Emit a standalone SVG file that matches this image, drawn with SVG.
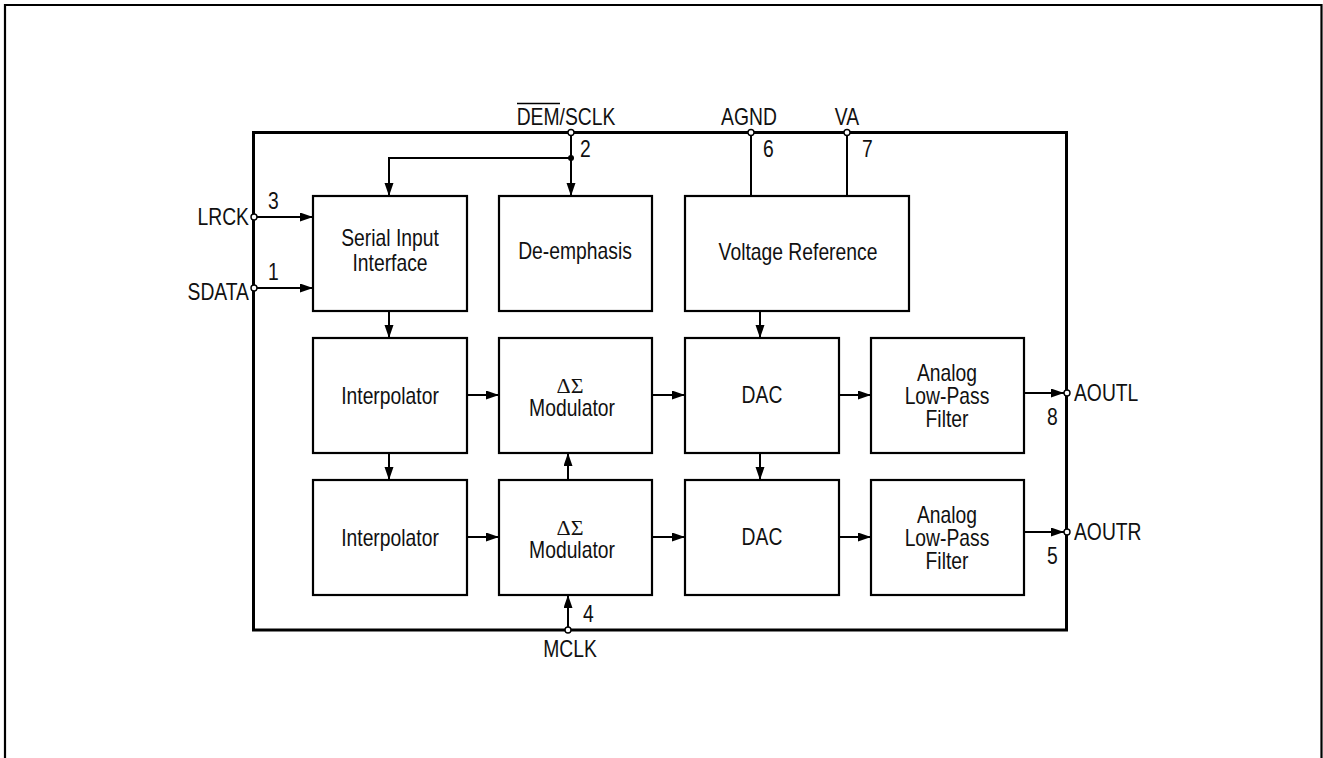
<svg xmlns="http://www.w3.org/2000/svg" width="1323" height="758" viewBox="0 0 1323 758">
<style>
.t{font-family:"Liberation Sans",Arial,sans-serif;font-size:23px;fill:#111}
.m{text-anchor:middle}
.e{text-anchor:end}
.g{font-family:"Liberation Serif","DejaVu Serif",serif;font-size:22px;fill:#111;text-anchor:middle}
.box{fill:#fff;stroke:#000;stroke-width:2.2}
.ln{fill:none;stroke:#000;stroke-width:2}
.pin{fill:#fff;stroke:#000;stroke-width:1.4}
</style>
<defs>
<marker id="ah" markerUnits="userSpaceOnUse" markerWidth="14" markerHeight="10" refX="13" refY="4.5" orient="auto">
<path d="M0,0 L13,4.5 L0,9 Z" fill="#000"/>
</marker>
</defs>
<rect width="1323" height="758" fill="#fff"/>
<path d="M5,760 V5 H1321.5 V760" fill="none" stroke="#000" stroke-width="2.2"/>
<rect id="chip" x="253.5" y="132.5" width="813" height="497.5" fill="none" stroke="#000" stroke-width="3"/>

<g id="connectors">
<path class="ln" d="M571,132 V196" marker-end="url(#ah)"/>
<path class="ln" d="M571,158 H389 V196" marker-end="url(#ah)"/>
<circle cx="571" cy="158" r="3" fill="#000"/>
<path class="ln" d="M751,132 V196"/>
<path class="ln" d="M847,132 V196"/>
<path class="ln" d="M254,217 H313" marker-end="url(#ah)"/>
<path class="ln" d="M254,288 H313" marker-end="url(#ah)"/>
<path class="ln" d="M389,311 V338" marker-end="url(#ah)"/>
<path class="ln" d="M389,453 V480" marker-end="url(#ah)"/>
<path class="ln" d="M760,311 V338" marker-end="url(#ah)"/>
<path class="ln" d="M760,453 V480" marker-end="url(#ah)"/>
<path class="ln" d="M467,395 H499" marker-end="url(#ah)"/>
<path class="ln" d="M652,395 H685" marker-end="url(#ah)"/>
<path class="ln" d="M839,395 H871" marker-end="url(#ah)"/>
<path class="ln" d="M1024,393 H1064" marker-end="url(#ah)"/>
<path class="ln" d="M467,537 H499" marker-end="url(#ah)"/>
<path class="ln" d="M652,537 H685" marker-end="url(#ah)"/>
<path class="ln" d="M839,537 H871" marker-end="url(#ah)"/>
<path class="ln" d="M1024,532 H1064" marker-end="url(#ah)"/>
<path class="ln" d="M568,480 V453" marker-end="url(#ah)"/>
<path class="ln" d="M568,630 V595" marker-end="url(#ah)"/>
</g>

<g id="pins">
<circle class="pin" cx="571" cy="132.5" r="3"/>
<circle class="pin" cx="751" cy="132.5" r="3"/>
<circle class="pin" cx="847" cy="132.5" r="3"/>
<circle class="pin" cx="254" cy="217" r="3"/>
<circle class="pin" cx="254" cy="288" r="3"/>
<circle class="pin" cx="1067" cy="393" r="3"/>
<circle class="pin" cx="1067" cy="532" r="3"/>
<circle class="pin" cx="568" cy="630" r="3"/>
</g>

<g id="pin-labels">
<text class="t m" transform="translate(566,125) scale(0.84,1)">DEM/SCLK</text>
<path d="M517,103.5 H560" stroke="#000" stroke-width="1.6"/>
<text class="t" transform="translate(580,157) scale(0.84,1)">2</text>
<text class="t m" transform="translate(749,125) scale(0.84,1)">AGND</text>
<text class="t" transform="translate(763,157) scale(0.84,1)">6</text>
<text class="t m" transform="translate(847,125) scale(0.84,1)">VA</text>
<text class="t" transform="translate(862,157) scale(0.84,1)">7</text>
<text class="t e" transform="translate(249,225) scale(0.84,1)">LRCK</text>
<text class="t" transform="translate(268,209) scale(0.84,1)">3</text>
<text class="t e" transform="translate(249,300) scale(0.84,1)">SDATA</text>
<text class="t" transform="translate(268,280) scale(0.84,1)">1</text>
<text class="t" transform="translate(1074,401) scale(0.84,1)">AOUTL</text>
<text class="t" transform="translate(1047,425) scale(0.84,1)">8</text>
<text class="t" transform="translate(1074,540) scale(0.84,1)">AOUTR</text>
<text class="t" transform="translate(1047,564) scale(0.84,1)">5</text>
<text class="t" transform="translate(583,622) scale(0.84,1)">4</text>
<text class="t m" transform="translate(570,657) scale(0.84,1)">MCLK</text>
</g>

<g id="serial">
<rect class="box" x="313" y="196" width="154" height="115"/>
<text class="t m" transform="translate(390,246) scale(0.84,1)">Serial Input</text>
<text class="t m" transform="translate(390,271) scale(0.84,1)">Interface</text>
</g>
<g id="deemph">
<rect class="box" x="499" y="196" width="153" height="115"/>
<text class="t m" transform="translate(575,259) scale(0.84,1)">De-emphasis</text>
</g>
<g id="vref">
<rect class="box" x="685" y="196" width="224" height="115"/>
<text class="t m" transform="translate(798,260) scale(0.84,1)">Voltage Reference</text>
</g>

<g id="interp1">
<rect class="box" x="313" y="338" width="154" height="115"/>
<text class="t m" transform="translate(390,404) scale(0.84,1)">Interpolator</text>
</g>
<g id="mod1">
<rect class="box" x="499" y="338" width="153" height="115"/>
<text class="g" x="570" y="393">ΔΣ</text>
<text class="t m" transform="translate(572,416) scale(0.84,1)">Modulator</text>
</g>
<g id="dac1">
<rect class="box" x="685" y="338" width="154" height="115"/>
<text class="t m" transform="translate(762,403) scale(0.84,1)">DAC</text>
</g>
<g id="filt1">
<rect class="box" x="871" y="338" width="153" height="115"/>
<text class="t m" transform="translate(947,381) scale(0.84,1)">Analog</text>
<text class="t m" transform="translate(947,404) scale(0.84,1)">Low-Pass</text>
<text class="t m" transform="translate(947,427) scale(0.84,1)">Filter</text>
</g>

<g id="interp2">
<rect class="box" x="313" y="480" width="154" height="115"/>
<text class="t m" transform="translate(390,546) scale(0.84,1)">Interpolator</text>
</g>
<g id="mod2">
<rect class="box" x="499" y="480" width="153" height="115"/>
<text class="g" x="570" y="535">ΔΣ</text>
<text class="t m" transform="translate(572,558) scale(0.84,1)">Modulator</text>
</g>
<g id="dac2">
<rect class="box" x="685" y="480" width="154" height="115"/>
<text class="t m" transform="translate(762,545) scale(0.84,1)">DAC</text>
</g>
<g id="filt2">
<rect class="box" x="871" y="480" width="153" height="115"/>
<text class="t m" transform="translate(947,523) scale(0.84,1)">Analog</text>
<text class="t m" transform="translate(947,546) scale(0.84,1)">Low-Pass</text>
<text class="t m" transform="translate(947,569) scale(0.84,1)">Filter</text>
</g>
</svg>
